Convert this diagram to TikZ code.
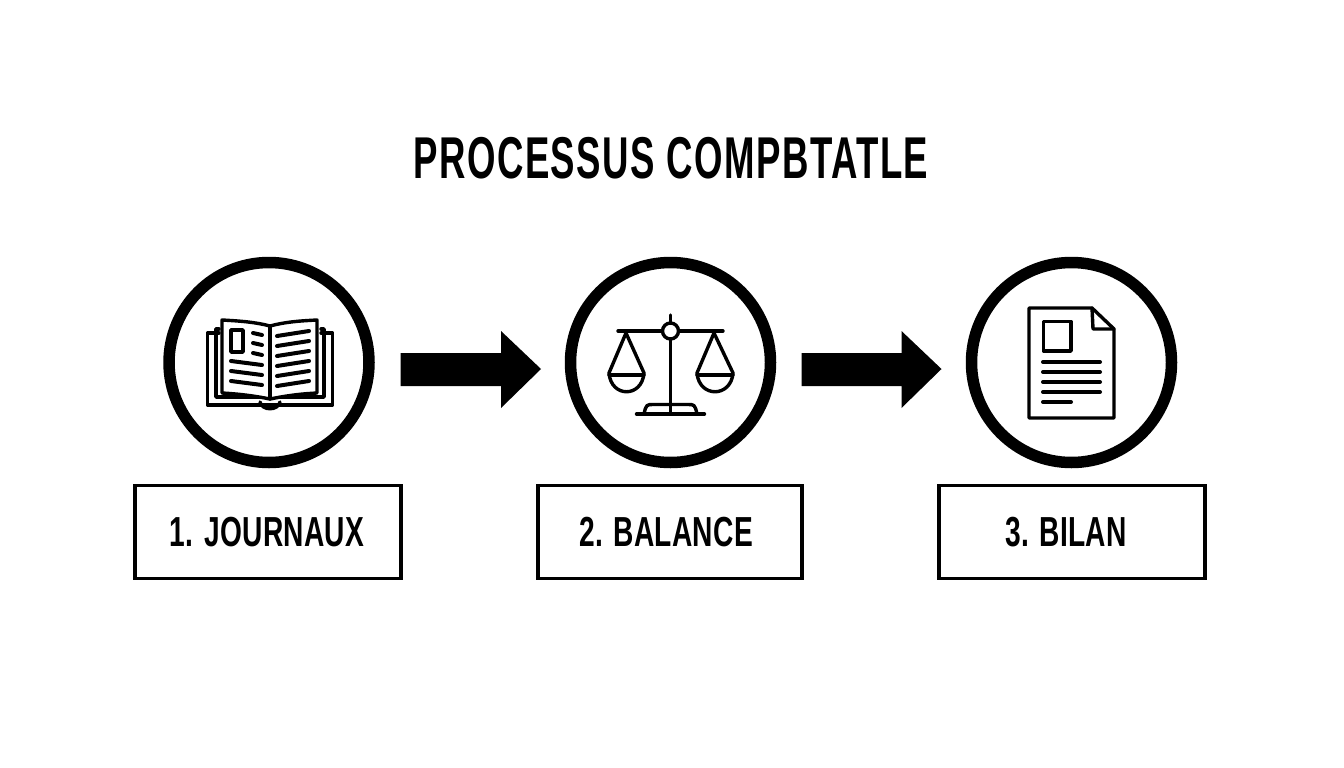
\documentclass[tikz,border=0pt]{standalone}
\usepackage{fontspec}
\setmainfont{Liberation Sans}
\tikzset{
 x=1pt,y=-1pt,
 ring/.style={circle,draw=black,line width=11.5pt,minimum size=200pt,inner sep=0pt,fill=white},
 lab/.style={draw=black,line width=3.5pt,fill=white,inner sep=0pt},
 ttl/.style={inner sep=0pt,font=\bfseries\fontsize{59}{62}\selectfont\addfontfeature{LetterSpace=4}},
 labtext/.style={inner sep=0pt,font=\bfseries\fontsize{42}{46}\selectfont\addfontfeature{LetterSpace=1}},
 flow/.style={fill=black,draw=none},
 ic/.style={line width=3.4pt,line join=round,line cap=round},
 bar/.style={line width=4pt},
}
\begin{document}
\begin{tikzpicture}
\useasboundingbox (0,0) rectangle (1344,768);
\fill[white] (0,0) rectangle (1344,768);
\node[ttl,xscale=.62] (title) at (671,158.5) {PROCESSUS COMPBTATLE};
\node[ring] (c1) at (269,362.5) {};
\node[ring] (c2) at (670.5,362.5) {};
\node[ring] (c3) at (1071.5,362.5) {};
\node[lab,minimum width=266pt,minimum height=93pt] (l1) at (268,532) {};
\node[lab,minimum width=264pt,minimum height=93pt] (l2) at (670,532) {};
\node[lab,minimum width=266pt,minimum height=93pt] (l3) at (1072,532) {};
\node[labtext,xscale=.67] (t1) at (267,532) {1. JOURNAUX};
\node[labtext,xscale=.67] (t2) at (666,532) {2. BALANCE};
\node[labtext,xscale=.67] (t3) at (1066,532) {3. BILAN};
\fill[flow] (400.5,353) -- (501,353) -- (501,331) -- (541,369) -- (501,408) -- (501,386) -- (400.5,386) -- cycle;
\fill[flow] (801.5,353) -- (901.5,353) -- (901.5,331) -- (941.5,369) -- (901.5,408) -- (901.5,386) -- (801.5,386) -- cycle;
% book
\begin{scope}[ic]
\draw (219,333) -- (207.5,333) -- (207.5,405) -- (332.5,405) -- (332.5,333) -- (321,333);
\draw (219,329) -- (216,329) -- (216,397) -- (324,397) -- (324,329) -- (321,329);
\draw[fill=white] (270,326) .. controls (255,322) and (240,321) .. (222,320) -- (222,393) .. controls (240,394) and (255,396) .. (270,399) .. controls (285,396) and (298,394) .. (317,393) -- (317,320) .. controls (298,321) and (285,322) .. (270,326) -- cycle;
\draw (270,326) -- (270,399);
\draw (231,330) rectangle (243,352);
\draw[bar] (253,333) -- (262,335); \draw[bar] (253,343) -- (262,345); \draw[bar] (253,353) -- (262,355);
\draw[bar] (231,361) -- (262,365); \draw[bar] (231,371) -- (262,375); \draw[bar] (231,381) -- (262,385);
\draw[bar] (277,336) -- (309,331); \draw[bar] (277,346) -- (309,341); \draw[bar] (277,356) -- (309,351);
\draw[bar] (277,366) -- (309,361); \draw[bar] (277,376) -- (309,371); \draw[bar] (277,386) -- (309,381);
\draw (260,402) .. controls (262,411) and (278,411) .. (280,402);
\end{scope}
% scales
\begin{scope}[ic]
\draw (618,331) -- (723,331);
\draw (670.5,315) -- (670.5,322);
\draw (670.5,340) -- (670.5,413);
\draw[fill=white] (670.5,331) circle (8);
\draw (626,333) -- (609,373) .. controls (611,398) and (642,398) .. (644,373) -- cycle;
\draw (609,375) -- (644,375);
\draw (714,333) -- (697,373) .. controls (699,398) and (731,398) .. (733,373) -- cycle;
\draw (697,375) -- (733,375);
\draw (636.5,414) -- (704.5,414);
\draw (644,414) .. controls (646,404.5) and (647,404.5) .. (653,404.5) -- (688,404.5) .. controls (694,404.5) and (695,404.5) .. (697,414);
\end{scope}
% document
\begin{scope}[ic]
\draw (1092,308) -- (1029,308) -- (1029,418) -- (1114,418) -- (1114,329) -- cycle;
\draw (1092,308) -- (1093,329) -- (1114,329);
\draw (1043.5,321.5) rectangle (1071,351);
\draw[bar] (1043,362) -- (1100,362); \draw[bar] (1043,372) -- (1100,372); \draw[bar] (1043,382) -- (1100,382); \draw[bar] (1043,392) -- (1100,392);
\draw[bar] (1043,402) -- (1071,402);
\end{scope}
\end{tikzpicture}
\end{document}
